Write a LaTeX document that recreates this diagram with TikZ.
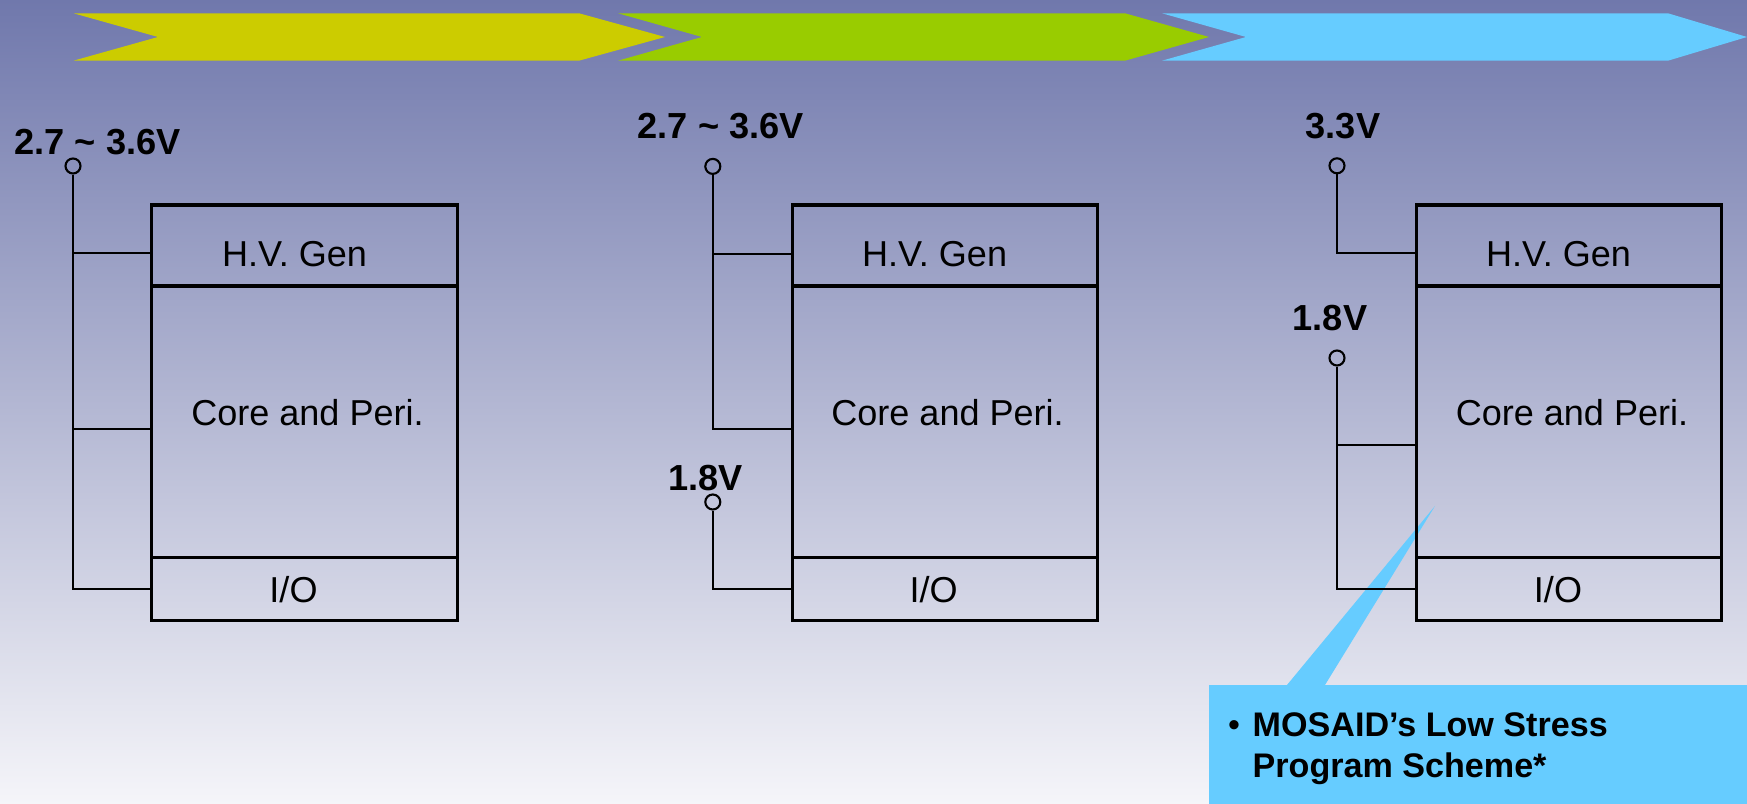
\documentclass[tikz,border=0pt]{standalone}
\usepackage{fontspec}
\setmainfont{Liberation Sans}
\usepackage{xcolor}
\usetikzlibrary{positioning,calc}

\definecolor{bgtop}{RGB}{112,120,172}
\definecolor{bgmid}{RGB}{194,195,218}
\definecolor{bgbot}{RGB}{245,245,249}
\definecolor{stageA}{RGB}{204,204,0}
\definecolor{stageB}{RGB}{153,204,0}
\definecolor{stageC}{RGB}{102,204,255}

\tikzset{
  part/.style={draw, line width=0.9pt, minimum width=3.05cm, inner sep=0pt, outer sep=0pt},
  wire/.style={line width=0.6pt},
  pin/.style={draw, circle, line width=0.6pt, minimum size=0.15cm, inner sep=0pt},
  volt/.style={font=\fontsize{10.3pt}{12pt}\selectfont\bfseries, anchor=base, inner sep=0pt},
  txt/.style={font=\fontsize{10.25pt}{12pt}\selectfont, anchor=base, inner sep=0pt},
  notetxt/.style={font=\fontsize{9.7pt}{12pt}\selectfont\bfseries, anchor=base west, inner sep=0pt},
}

\begin{document}
\begin{tikzpicture}[x=0.01cm, y=-0.01cm]
  \useasboundingbox (0,0) rectangle (1747,804);
  % background
  \shade[top color=bgtop, middle color=bgmid, bottom color=bgbot] (0,0) rectangle (1747,804);

  % stage arrows along the top
  \fill[stageA] (73.5,13.3) -- (579,13.3) -- (665,37) -- (579,60.7) -- (73.5,60.7) -- (158,37) -- cycle;
  \fill[stageB] (618,13.3) -- (1125,13.3) -- (1209,37) -- (1125,60.7) -- (618,60.7) -- (702,37) -- cycle;
  \fill[stageC] (1162,13.3) -- (1668,13.3) -- (1747,37) -- (1668,60.7) -- (1162,60.7) -- (1246,37) -- cycle;

  % callout (behind the blocks)
  \fill[stageC] (1435,506) -- (1287,685) -- (1325,685) -- cycle;            % pointer
  \node[fill=stageC, anchor=north west, minimum width=5.38cm, minimum height=1.19cm,
        inner sep=0pt, outer sep=0pt] (note) at (1209,685) {};
  \node[notetxt, anchor=base, font=\fontsize{9.7pt}{12pt}\selectfont] (dot) at (1234,737) {\textbullet};
  \node[notetxt] (noteA) at (1252,737) {MOSAID’s Low Stress};
  \node[notetxt] (noteB) at (1252,778) {Program Scheme*};

  % block 1: single supply
  \node[part, minimum height=0.81cm] (hv1) at (304.5,245.5) {};
  \node[part, minimum height=2.71cm, below=0pt of hv1] (core1) {};
  \node[part, minimum height=0.63cm, below=0pt of core1] (io1) {};
  \node[txt] (hvt1) at (294.5,267) {H.V. Gen};
  \node[txt] (coret1) at (307.5,426) {Core and Peri.};
  \node[txt] (iot1) at (293.5,602.5) {I/O};
  \node[pin] (p1) at (73,166) {};
  \node[volt] (v1) at (97.5,154.4) {2.7 \textasciitilde{} 3.6V};
  \coordinate (t1a) at (73,253);
  \coordinate (t1b) at (73,429);
  \draw[wire] (p1.south) |- (io1.west);                % bus to I/O
  \draw[wire] (t1a) -- (t1a -| hv1.west);             % to H.V. Gen
  \draw[wire] (t1b) -- (t1b -| core1.west);           % to core

  % block 2: separate I/O supply
  \node[part, minimum height=0.81cm] (hv2) at (944.7,245.5) {};
  \node[part, minimum height=2.71cm, below=0pt of hv2] (core2) {};
  \node[part, minimum height=0.63cm, below=0pt of core2] (io2) {};
  \node[txt] (hvt2) at (934.6,267) {H.V. Gen};
  \node[txt] (coret2) at (947.6,426) {Core and Peri.};
  \node[txt] (iot2) at (933.6,602.5) {I/O};
  \node[pin] (p2a) at (712.8,166.4) {};
  \node[volt] (v2a) at (720.7,138.2) {2.7 \textasciitilde{} 3.6V};
  \node[pin] (p2b) at (712.8,502) {};
  \node[volt] (v2b) at (705.5,490.5) {1.8V};
  \coordinate (t2a) at (712.8,253.6);
  \coordinate (t2b) at (712.8,429);
  \draw[wire] (p2a.south) -- (t2b) -- (t2b -| core2.west);
  \draw[wire] (t2a) -- (t2a -| hv2.west);
  \draw[wire] (p2b.south) |- (io2.west);

  % block 3: 3.3V only for H.V. Gen
  \node[part, minimum height=0.81cm] (hv3) at (1569,245.5) {};
  \node[part, minimum height=2.71cm, below=0pt of hv3] (core3) {};
  \node[part, minimum height=0.63cm, below=0pt of core3] (io3) {};
  \node[txt] (hvt3) at (1558.5,267) {H.V. Gen};
  \node[txt] (coret3) at (1572,426) {Core and Peri.};
  \node[txt] (iot3) at (1558,602.5) {I/O};
  \node[pin] (p3a) at (1337,165.8) {};
  \node[volt] (v3a) at (1343,138.2) {3.3V};
  \node[pin] (p3b) at (1337,358) {};
  \node[volt] (v3b) at (1330,331) {1.8V};
  \coordinate (t3a) at (1337,253);
  \coordinate (t3b) at (1337,444.7);
  \draw[wire] (p3a.south) -- (t3a) -- (t3a -| hv3.west);
  \draw[wire] (p3b.south) |- (io3.west);
  \draw[wire] (t3b) -- (t3b -| core3.west);
\end{tikzpicture}
\end{document}
